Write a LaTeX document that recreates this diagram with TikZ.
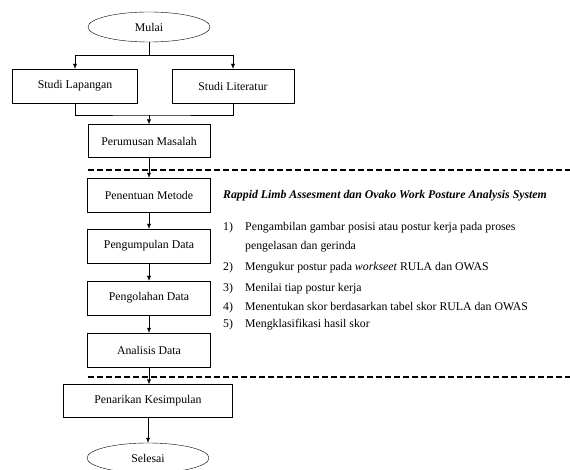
\documentclass[tikz,border=0pt]{standalone}
\usepackage{fontspec}
\setmainfont{Liberation Serif}
\usetikzlibrary{shapes.geometric,arrows.meta,positioning,calc}

\begin{document}
\begin{tikzpicture}[x=1pt,y=-1pt,
  kotak/.style={draw,thin,minimum width=123pt,minimum height=34pt,inner sep=2pt,font=\fontsize{11.8}{13}\selectfont},
  oval/.style={draw,thin,ellipse,minimum width=122pt,minimum height=30pt,inner sep=0pt,font=\fontsize{11.8}{13}\selectfont},
  alur/.style={-{Latex[length=5pt,width=4pt]},thin},
  sekat/.style={line width=1.6pt,dash pattern=on 6pt off 3pt},
  teks/.style={anchor=base west,inner sep=0pt,font=\fontsize{11.8}{13}\selectfont}]
\useasboundingbox (0,0) rectangle (570,470);
% alur utama
\node[oval] (mulai) at (149,27) {Mulai};
\node[kotak,minimum width=125pt] (lap) at (75,86) {Studi Lapangan};
\node[kotak,minimum width=122pt] (lit) at (233,86) {Studi Literatur};
\node[kotak,minimum width=122pt,minimum height=33pt] (rumus) at (149,141) {Perumusan Masalah};
\node[kotak] (metode) at (149,195) {Penentuan Metode};
\node[kotak] (kumpul) at (149,246) {Pengumpulan Data};
\node[kotak] (olah) at (149,298) {Pengolahan Data};
\node[kotak] (analisis) at (149,350) {Analisis Data};
\node[kotak,minimum width=169pt,minimum height=33pt] (tarik) at (148,401) {Penarikan Kesimpulan};
\node[oval] (selesai) at (148,458) {Selesai};
\coordinate (cabang) at (149,55);
\coordinate (gabung) at (149,115);
\draw[thin] (mulai.south) -- (cabang);
\draw[alur] (cabang) -| (lap.north);
\draw[alur] (cabang) -| (lit.north);
\draw[thin] (lap.south) |- (gabung) -| (lit.south);
\path[alur]
(gabung) edge (rumus.north)
(rumus) edge (metode)
(metode) edge (kumpul)
(kumpul) edge (olah)
(olah) edge (analisis)
(analisis.south) edge (tarik.north -| analisis.south)
(tarik) edge (selesai)
;
% batas metode
\draw[sekat] (88,170) -- (570,170);
\draw[sekat] (88,377) -- (570,377);
% keterangan
\node[teks,font=\fontsize{11.8}{13}\selectfont\bfseries\itshape] (judul) at (223,199) {Rappid Limb Assesment dan Ovako Work Posture Analysis System};
\node[teks] (n1) at (223,231) {1)};
\node[teks] (t1) at (245,231) {Pengambilan gambar posisi atau postur kerja pada proses};
\node[teks] (t1b) at (245,250) {pengelasan dan gerinda};
\node[teks] (n2) at (223,271) {2)};
\node[teks] (t2) at (245,271) {Mengukur postur pada \textit{workseet} RULA dan OWAS};
\node[teks] (n3) at (223,291) {3)};
\node[teks] (t3) at (245,291) {Menilai tiap postur kerja};
\node[teks] (n4) at (223,310) {4)};
\node[teks] (t4) at (245,310) {Menentukan skor berdasarkan tabel skor RULA dan OWAS};
\node[teks] (n5) at (223,327) {5)};
\node[teks] (t5) at (245,327) {Mengklasifikasi hasil skor};
\end{tikzpicture}
\end{document}
